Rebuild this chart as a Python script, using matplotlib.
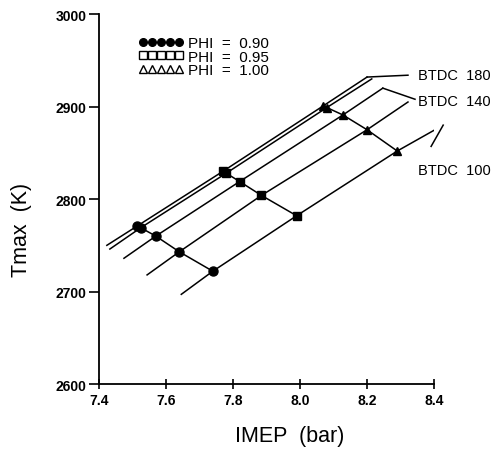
import matplotlib

matplotlib.use("Agg")

import matplotlib.pyplot as plt
from matplotlib.lines import Line2D

plt.rcParams["font.family"] = ["Liberation Sans", "DejaVu Sans"]

# spark timings (deg BTDC), one iso-timing line each
timings = [180, 160, 140, 120, 100]

# points at each equivalence ratio, ordered as timings
imep_090 = [7.515, 7.525, 7.57, 7.64, 7.74]
tmax_090 = [2771, 2769, 2760, 2743, 2722]
imep_095 = [7.77, 7.78, 7.82, 7.885, 7.99]
tmax_095 = [2830, 2828, 2819, 2804, 2782]
imep_100 = [8.07, 8.08, 8.128, 8.20, 8.29]
tmax_100 = [2901, 2899, 2891, 2875, 2852]

# ends of the iso-timing lines
imep_start = [7.424, 7.433, 7.475, 7.544, 7.646]
tmax_start = [2750, 2746, 2736, 2718, 2697]
imep_end = [8.20, 8.214, 8.247, 8.322, 8.427]
tmax_end = [2932, 2930, 2920, 2905, 2880]

phi_labels = ["PHI  =  0.90", "PHI  =  0.95", "PHI  =  1.00"]

fig = plt.figure(figsize=(4.99, 4.60), dpi=100)
ax = fig.add_axes([0.198, 0.163, 0.672, 0.804])

lw = 1.1
for i in range(len(timings)):
    xs = [imep_start[i], imep_090[i], imep_095[i], imep_100[i], imep_end[i]]
    ys = [tmax_start[i], tmax_090[i], tmax_095[i], tmax_100[i], tmax_end[i]]
    ax.plot(xs, ys, color="black", lw=lw, zorder=2)

series = [
    (imep_090, tmax_090, "o", 6.5),
    (imep_095, tmax_095, "s", 6.0),
    (imep_100, tmax_100, "^", 6.0),
]
for xs, ys, m, ms in series:
    ax.plot(xs, ys, color="black", lw=lw, marker=m, ms=ms,
            mfc="black", mec="black", zorder=3)

# leader lines and labels
txt_x = 8.352
leaders = [
    ((imep_end[0], tmax_end[0]), (8.322, 2934), (txt_x, 2934), "BTDC  180"),
    ((imep_end[2], tmax_end[2]), (8.343, 2908), (txt_x, 2906), "BTDC  140"),
    ((imep_end[4], tmax_end[4]), (8.391, 2857), (txt_x, 2832), "BTDC  100"),
]
for p0, p1, pt, label in leaders:
    ax.plot([p0[0], p1[0]], [p0[1], p1[1]], color="black", lw=lw, clip_on=False)
    ax.text(pt[0], pt[1], label, ha="left", va="center", fontsize=10.5,
            clip_on=False)

handles = [
    Line2D([], [], ls="none", marker="o", ms=5.5, mfc="black", mec="black"),
    Line2D([], [], ls="none", marker="s", ms=5.5, mfc="white", mec="black"),
    Line2D([], [], ls="none", marker="^", ms=5.5, mfc="white", mec="black"),
]
ax.legend(handles, phi_labels, numpoints=5, loc="upper left",
          bbox_to_anchor=(0.085, 0.97), frameon=False, fontsize=11,
          handlelength=3.0, handletextpad=0.25, labelspacing=-0.02,
          borderpad=0.2)

ax.set_xlim(7.4, 8.4)
ax.set_ylim(2600, 3000)
ax.set_xticks([7.4, 7.6, 7.8, 8.0, 8.2, 8.4])
ax.set_xticklabels(["7.4", "7.6", "7.8", "8.0", "8.2", "8.4"])
ax.set_yticks([2600, 2700, 2800, 2900, 3000])

for side in ("top", "right"):
    ax.spines[side].set_visible(False)
for side in ("left", "bottom"):
    ax.spines[side].set_linewidth(1.3)

ax.tick_params(axis="y", direction="out", length=7, width=1.2,
               labelsize=10, pad=2)
ax.tick_params(axis="x", direction="inout", length=7, width=1.2,
               labelsize=10, pad=3)
for lab in ax.get_xticklabels() + ax.get_yticklabels():
    lab.set_fontweight("bold")

ax.set_xlabel("IMEP  (bar)", fontsize=15.5)
ax.set_ylabel("Tmax  (K)", fontsize=15.5)
ax.xaxis.set_label_coords(0.57, -0.14)
ax.yaxis.set_label_coords(-0.23, 0.42)
ax.xaxis.label.set_va("center")
ax.yaxis.label.set_va("center")

fig.savefig("out.png", dpi=100)
